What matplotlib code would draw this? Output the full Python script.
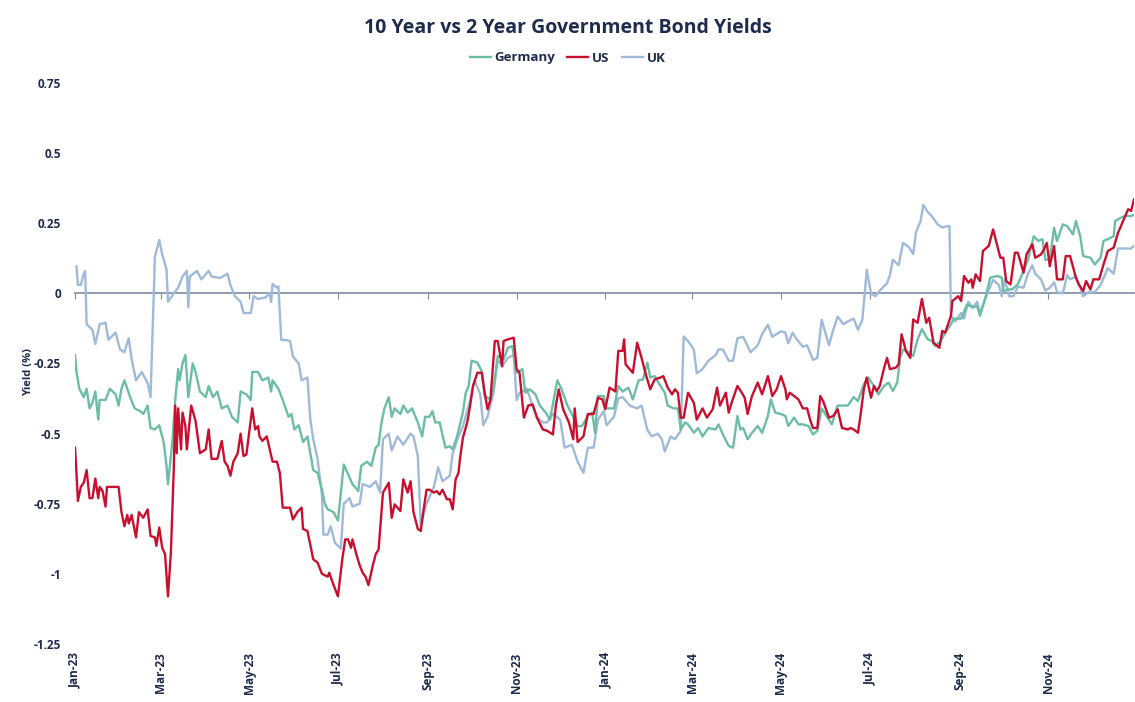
import numpy as np
import pandas as pd
import matplotlib
matplotlib.use("Agg")
import matplotlib.pyplot as plt
import matplotlib.dates as mdates

# days since 2023-01-01
start = pd.Timestamp("2023-01-01")

germany_days = [0, 1, 3, 6, 8, 10, 12, 14, 16, 17,
                21, 24, 28, 30, 32, 34, 38, 41, 45, 47,
                50, 52, 55, 58, 61, 63, 64, 67, 69, 71,
                72, 74, 76, 78, 81, 83, 86, 90, 92, 95,
                98, 101, 105, 108, 112, 114, 118, 121, 122, 126,
                129, 133, 135, 136, 140, 143, 147, 149, 151, 154,
                157, 160, 164, 167, 170, 172, 174, 178, 181, 185,
                188, 191, 195, 197, 201, 204, 207, 209, 211, 213,
                216, 218, 220, 224, 226, 229, 232, 236, 239, 241,
                244, 246, 248, 251, 255, 258, 260, 263, 267, 269,
                271, 273, 277, 280, 282, 286, 288, 291, 295, 298,
                301, 304, 308, 310, 313, 317, 320, 324, 327, 332,
                335, 339, 342, 346, 349, 353, 356, 358, 360, 364,
                366, 371, 374, 377, 381, 384, 388, 391, 394, 396,
                399, 403, 406, 408, 412, 415, 417, 420, 422, 426,
                429, 432, 436, 441, 443, 446, 450, 453, 456, 458,
                460, 463, 466, 470, 473, 477, 479, 482, 486, 489,
                491, 495, 498, 501, 505, 508, 511, 514, 518, 521,
                525, 529, 532, 536, 539, 543, 546, 550, 553, 557,
                560, 563, 566, 568, 570, 574, 577, 580, 583, 587,
                590, 592, 596, 599, 603, 605, 610, 614, 618, 621,
                623, 627, 630, 635, 638, 639, 642, 645, 649, 652,
                656, 660, 663, 666, 668, 671, 674, 676, 680, 683,
                687, 689, 692, 694, 699, 702, 706, 708, 711, 715,
                716, 720, 723, 727, 729]
germany = [-0.22, -0.28, -0.34, -0.37, -0.34, -0.41, -0.39, -0.35, -0.45, -0.38,
           -0.38, -0.34, -0.36, -0.40, -0.34, -0.31, -0.37, -0.41, -0.42, -0.43,
           -0.40, -0.48, -0.485, -0.47, -0.53, -0.615, -0.68, -0.53, -0.38, -0.27,
           -0.31, -0.25, -0.22, -0.37, -0.25, -0.28, -0.35, -0.37, -0.33, -0.37,
           -0.35, -0.41, -0.40, -0.44, -0.46, -0.35, -0.36, -0.38, -0.28, -0.28,
           -0.31, -0.30, -0.35, -0.31, -0.34, -0.38, -0.44, -0.43, -0.485, -0.47,
           -0.53, -0.51, -0.63, -0.64, -0.70, -0.75, -0.77, -0.78, -0.81, -0.61,
           -0.645, -0.68, -0.705, -0.615, -0.60, -0.615, -0.55, -0.54, -0.46, -0.41,
           -0.37, -0.44, -0.41, -0.43, -0.40, -0.425, -0.41, -0.46, -0.51, -0.44,
           -0.44, -0.42, -0.46, -0.46, -0.55, -0.545, -0.556, -0.51, -0.425, -0.354,
           -0.33, -0.24, -0.247, -0.277, -0.366, -0.378, -0.342, -0.223, -0.235, -0.194,
           -0.188, -0.283, -0.27, -0.354, -0.342, -0.36, -0.40, -0.425, -0.45, -0.31,
           -0.342, -0.40, -0.43, -0.473, -0.473, -0.437, -0.425, -0.497, -0.366, -0.366,
           -0.41, -0.41, -0.33, -0.35, -0.336, -0.378, -0.31, -0.307, -0.247, -0.30,
           -0.295, -0.33, -0.354, -0.40, -0.41, -0.41, -0.485, -0.46, -0.467, -0.497,
           -0.48, -0.51, -0.48, -0.485, -0.467, -0.503, -0.544, -0.55, -0.437, -0.485,
           -0.48, -0.52, -0.497, -0.473, -0.497, -0.437, -0.378, -0.425, -0.43, -0.437,
           -0.473, -0.443, -0.467, -0.467, -0.473, -0.503, -0.49, -0.41, -0.443, -0.467,
           -0.40, -0.40, -0.40, -0.37, -0.384, -0.324, -0.30, -0.33, -0.36, -0.33,
           -0.318, -0.348, -0.318, -0.23, -0.20, -0.21, -0.223, -0.164, -0.128, -0.164,
           -0.17, -0.188, -0.17, -0.14, -0.11, -0.09, -0.09, -0.04, -0.05, -0.045,
           -0.08, -0.01, 0.056, 0.062, 0.056, 0.008, 0.014, 0.014, 0.032, 0.068,
           0.12, 0.204, 0.187, 0.193, 0.12, 0.12, 0.234, 0.187, 0.246, 0.24,
           0.21, 0.258, 0.204, 0.133, 0.127, 0.103, 0.127, 0.187, 0.193, 0.204,
           0.258, 0.27, 0.276, 0.276, 0.28]

us_days = [0, 1, 2, 4, 6, 8, 10, 12, 14, 16,
           17, 19, 21, 22, 26, 30, 32, 34, 36, 37,
           39, 42, 44, 47, 50, 52, 55, 56, 58, 60,
           62, 64, 66, 68, 69, 70, 71, 73, 74, 76,
           77, 80, 83, 86, 90, 92, 94, 98, 101, 103,
           105, 107, 109, 112, 114, 116, 118, 122, 124, 126,
           127, 129, 132, 136, 139, 141, 143, 148, 150, 153,
           156, 157, 160, 164, 167, 170, 174, 175, 178, 181,
           184, 186, 188, 190, 191, 194, 196, 198, 200, 202,
           205, 207, 209, 212, 216, 218, 220, 224, 226, 229,
           231, 233, 236, 238, 240, 242, 244, 247, 249, 251,
           253, 256, 258, 260, 262, 264, 265, 267, 270, 272,
           274, 277, 280, 282, 284, 286, 289, 291, 294, 295,
           298, 302, 304, 306, 309, 312, 315, 318, 322, 325,
           329, 331, 333, 336, 340, 343, 344, 346, 350, 353,
           357, 360, 363, 365, 368, 372, 374, 377, 378, 379,
           381, 384, 387, 390, 393, 396, 399, 403, 405, 408,
           411, 413, 415, 417, 419, 422, 426, 428, 432, 435,
           439, 442, 444, 448, 450, 452, 456, 459, 461, 463,
           466, 470, 473, 477, 480, 483, 486, 489, 490, 492,
           495, 498, 501, 504, 506, 508, 511, 513, 515, 519,
           522, 525, 528, 532, 534, 536, 539, 541, 543, 545,
           548, 550, 552, 554, 557, 559, 561, 565, 567, 569,
           572, 575, 577, 580, 583, 586, 588, 591, 595, 597,
           599, 601, 603, 604, 608, 610, 612, 615, 617, 618,
           620, 623, 625, 629, 632, 634, 637, 639, 641, 644,
           647, 649, 653, 655, 659, 661, 665, 667, 669, 671,
           674, 676, 680, 682, 685, 689, 691, 694, 696, 699,
           701, 705, 708, 711, 715, 718, 721, 725, 727, 729]
us = [-0.55, -0.64, -0.74, -0.69, -0.675, -0.63, -0.73, -0.73, -0.66, -0.73,
      -0.69, -0.705, -0.76, -0.69, -0.69, -0.69, -0.78, -0.83, -0.79, -0.82,
      -0.79, -0.87, -0.78, -0.80, -0.77, -0.865, -0.87, -0.90, -0.835, -0.906,
      -0.93, -1.08, -0.925, -0.627, -0.40, -0.57, -0.41, -0.556, -0.425, -0.473,
      -0.556, -0.40, -0.455, -0.57, -0.556, -0.485, -0.59, -0.59, -0.526, -0.60,
      -0.615, -0.65, -0.60, -0.57, -0.50, -0.58, -0.574, -0.41, -0.485, -0.473,
      -0.51, -0.526, -0.51, -0.60, -0.60, -0.64, -0.764, -0.764, -0.806, -0.78,
      -0.764, -0.84, -0.847, -0.948, -0.96, -1.00, -1.01, -0.996, -1.04, -1.08,
      -0.948, -0.877, -0.877, -0.907, -0.877, -0.936, -0.97, -0.996, -1.01, -1.04,
      -0.97, -0.93, -0.913, -0.71, -0.675, -0.80, -0.752, -0.776, -0.663, -0.71,
      -0.67, -0.78, -0.84, -0.847, -0.77, -0.70, -0.70, -0.71, -0.705, -0.717,
      -0.70, -0.734, -0.734, -0.77, -0.663, -0.64, -0.59, -0.515, -0.46, -0.40,
      -0.33, -0.283, -0.283, -0.354, -0.413, -0.378, -0.17, -0.17, -0.26, -0.17,
      -0.164, -0.158, -0.27, -0.283, -0.443, -0.40, -0.396, -0.443, -0.485, -0.49,
      -0.503, -0.40, -0.342, -0.413, -0.46, -0.52, -0.41, -0.53, -0.51, -0.43,
      -0.43, -0.372, -0.378, -0.413, -0.336, -0.35, -0.205, -0.205, -0.164, -0.253,
      -0.265, -0.283, -0.176, -0.23, -0.29, -0.342, -0.307, -0.30, -0.295, -0.336,
      -0.36, -0.342, -0.354, -0.443, -0.443, -0.354, -0.39, -0.45, -0.41, -0.443,
      -0.413, -0.336, -0.40, -0.354, -0.425, -0.39, -0.33, -0.354, -0.372, -0.43,
      -0.366, -0.318, -0.36, -0.295, -0.366, -0.342, -0.295, -0.342, -0.378, -0.354,
      -0.366, -0.378, -0.41, -0.41, -0.45, -0.48, -0.48, -0.366, -0.384, -0.443,
      -0.437, -0.413, -0.48, -0.485, -0.48, -0.485, -0.497, -0.425, -0.342, -0.30,
      -0.372, -0.33, -0.348, -0.33, -0.265, -0.23, -0.27, -0.265, -0.253, -0.146,
      -0.205, -0.23, -0.093, -0.105, -0.02, -0.105, -0.087, -0.176, -0.194, -0.134,
      -0.14, -0.11, -0.08, -0.027, -0.01, -0.027, 0.062, 0.038, 0.05, 0.02,
      0.068, 0.044, 0.151, 0.169, 0.228, 0.187, 0.127, 0.127, 0.044, 0.032,
      0.145, 0.145, 0.074, 0.139, 0.175, 0.127, 0.139, 0.157, 0.18, 0.097,
      0.169, 0.05, 0.05, 0.133, 0.133, 0.056, 0.032, 0.008, 0.044, 0.014,
      0.05, 0.05, 0.103, 0.151, 0.163, 0.216, 0.252, 0.30, 0.294, 0.335]

uk_days = [1, 2, 4, 6, 7, 8, 12, 14, 17, 21,
           23, 28, 31, 34, 37, 39, 42, 46, 50, 52,
           55, 58, 60, 63, 64, 68, 71, 74, 77, 78,
           79, 84, 87, 92, 94, 100, 105, 107, 110, 114,
           116, 118, 121, 123, 126, 131, 134, 135, 136, 139,
           140, 142, 145, 148, 150, 154, 156, 160, 162, 164,
           167, 170, 171, 174, 176, 179, 183, 185, 189, 191,
           196, 198, 203, 207, 210, 212, 216, 218, 222, 226,
           231, 233, 236, 238, 242, 247, 250, 253, 258, 260,
           264, 267, 272, 275, 279, 281, 284, 288, 291, 294,
           298, 302, 304, 306, 311, 315, 318, 322, 325, 329,
           334, 337, 342, 346, 350, 353, 357, 360, 364, 366,
           371, 374, 377, 382, 387, 390, 394, 397, 401, 404,
           406, 410, 413, 417, 419, 422, 426, 428, 432, 436,
           441, 443, 446, 450, 453, 456, 460, 465, 470, 473,
           477, 480, 486, 489, 491, 494, 497, 501, 504, 508,
           511, 514, 519, 522, 525, 529, 532, 536, 539, 542,
           544, 545, 548, 551, 554, 559, 561, 563, 567, 570,
           574, 577, 579, 582, 584, 587, 590, 594, 597, 601,
           602, 603, 606, 610, 612, 615, 618, 621, 623, 628,
           632, 636, 638, 640, 643, 646, 649, 653, 656, 659,
           661, 665, 668, 671, 674, 676, 680, 683, 685, 689,
           692, 694, 698, 702, 706, 711, 715, 718, 722, 727,
           729]
uk = [0.096, 0.03, 0.03, 0.07, 0.08, -0.11, -0.13, -0.18, -0.11, -0.105,
      -0.165, -0.14, -0.20, -0.21, -0.16, -0.235, -0.31, -0.28, -0.32, -0.37,
      0.13, 0.19, 0.14, 0.085, -0.03, 0.0, 0.02, 0.06, 0.08, -0.05,
      0.06, 0.08, 0.05, 0.08, 0.06, 0.055, 0.07, 0.03, -0.01, -0.03,
      -0.07, -0.07, -0.07, -0.01, -0.02, -0.015, 0.0, -0.03, 0.034, 0.02,
      0.025, -0.166, -0.166, -0.17, -0.225, -0.25, -0.31, -0.30, -0.45, -0.52,
      -0.59, -0.72, -0.86, -0.86, -0.83, -0.89, -0.91, -0.75, -0.73, -0.76,
      -0.75, -0.68, -0.69, -0.67, -0.71, -0.52, -0.50, -0.56, -0.51, -0.54,
      -0.50, -0.51, -0.58, -0.825, -0.75, -0.69, -0.62, -0.67, -0.65, -0.57,
      -0.51, -0.475, -0.38, -0.31, -0.36, -0.47, -0.44, -0.356, -0.237, -0.26,
      -0.23, -0.22, -0.38, -0.355, -0.34, -0.40, -0.44, -0.46, -0.46, -0.43,
      -0.45, -0.55, -0.54, -0.60, -0.64, -0.55, -0.55, -0.45, -0.42, -0.47,
      -0.44, -0.374, -0.37, -0.40, -0.41, -0.40, -0.487, -0.51, -0.50, -0.52,
      -0.564, -0.51, -0.52, -0.49, -0.154, -0.17, -0.20, -0.285, -0.27, -0.24,
      -0.22, -0.20, -0.20, -0.24, -0.24, -0.16, -0.155, -0.21, -0.185, -0.145,
      -0.112, -0.155, -0.135, -0.14, -0.178, -0.14, -0.165, -0.19, -0.185, -0.237,
      -0.23, -0.094, -0.185, -0.13, -0.083, -0.11, -0.10, -0.09, -0.13, -0.094,
      0.02, 0.084, 0.0, -0.01, 0.01, 0.036, 0.066, 0.12, 0.10, 0.18,
      0.165, 0.14, 0.22, 0.256, 0.315, 0.29, 0.274, 0.245, 0.235, 0.24,
      0.24, -0.08, -0.10, -0.07, -0.09, -0.03, -0.05, -0.03, -0.07, 0.0,
      0.048, 0.03, -0.01, 0.05, -0.01, -0.01, 0.024, 0.02, 0.07, 0.10,
      0.07, 0.05, 0.01, 0.02, 0.04, 0.005, 0.0, 0.065, 0.05, 0.06,
      0.02, -0.01, 0.005, 0.005, 0.03, 0.09, 0.07, 0.16, 0.16, 0.16,
      0.17]

yticks = [0.75, 0.5, 0.25, 0, -0.25, -0.5, -0.75, -1, -1.25]
ytick_labels = ["0.75", "0.5", "0.25", "0", "-0.25", "-0.5", "-0.75", "-1", "-1.25"]

navy = "#1f2b4d"
plt.rcParams["font.family"] = ["Open Sans", "DejaVu Sans"]


def to_dates(days):
    return start + pd.to_timedelta(days, unit="D")


fig = plt.figure(figsize=(11.35, 7.02), dpi=100)
ax = fig.add_axes([75 / 1135, 58 / 702, 1059 / 1135, 561 / 702])

ax.plot(to_dates(germany_days), germany, color="#6cbda6", lw=1.7, label="Germany", zorder=3)
ax.plot(to_dates(us_days), us, color="#c8102e", lw=1.7, label="US", zorder=4)
ax.plot(to_dates(uk_days), uk, color="#9fbad9", lw=1.7, label="UK", zorder=2)

ax.set_ylim(-1.25, 0.75)
ax.set_xlim(start, pd.Timestamp("2024-12-30"))
ax.set_yticks(yticks)
ax.set_yticklabels(ytick_labels)
ax.tick_params(axis="y", length=0, pad=10, labelsize=8.5, labelcolor=navy)
for lab in ax.get_yticklabels():
    lab.set_fontweight("bold")

for s in ["top", "right", "left"]:
    ax.spines[s].set_visible(False)
ax.spines["bottom"].set_position(("data", 0))
ax.spines["bottom"].set_color("#7d89a3")
ax.spines["bottom"].set_linewidth(1.2)
ax.spines["bottom"].set_zorder(1)

months = mdates.MonthLocator(bymonth=[1, 3, 5, 7, 9, 11])
ax.xaxis.set_major_locator(months)
ax.tick_params(axis="x", direction="out", length=4, color="#7d89a3", labelbottom=False)

sec = ax.secondary_xaxis("bottom")
sec.xaxis.set_major_locator(mdates.MonthLocator(bymonth=[1, 3, 5, 7, 9, 11]))
sec.xaxis.set_major_formatter(mdates.DateFormatter("%b-%y"))
sec.spines["bottom"].set_visible(False)
sec.tick_params(length=0, pad=6, labelsize=8.5, labelcolor=navy)
for lab in sec.get_xticklabels():
    lab.set_rotation(90)
    lab.set_fontweight("bold")

ax.set_ylabel("Yield (%)", fontsize=8, fontweight="bold", color=navy)
ax.yaxis.set_label_coords(-0.039, 0.485)

fig.text(0.5, 1 - 28 / 702, "10 Year vs 2 Year Government Bond Yields",
         ha="center", va="center", fontsize=14, fontweight="bold", color=navy)
fig.legend(loc="center", bbox_to_anchor=(0.5, 1 - 58 / 702), ncol=3, frameon=False,
           handlelength=1.6, handletextpad=0.3, columnspacing=0.9,
           prop={"size": 9.5, "weight": "bold"}, labelcolor=navy)

fig.savefig("out.png", dpi=100)
